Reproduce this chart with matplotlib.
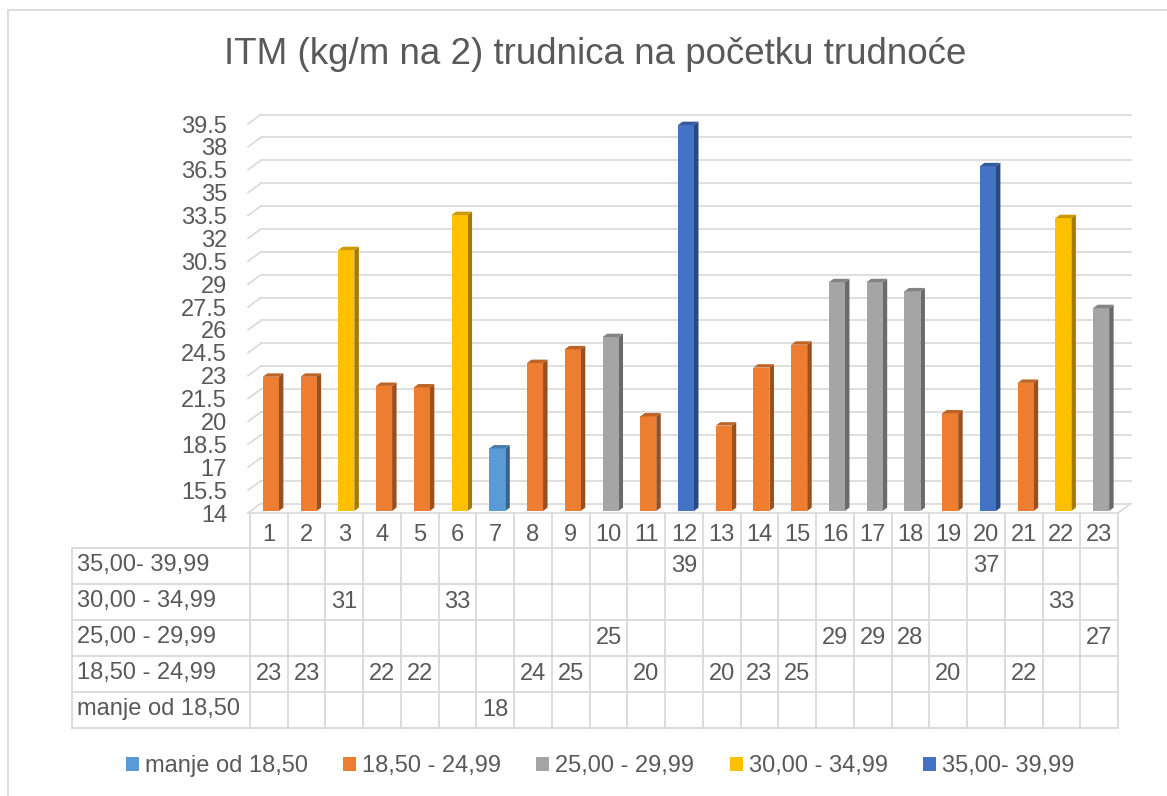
import matplotlib
matplotlib.use("Agg")
import matplotlib.pyplot as plt
from matplotlib.patches import Polygon, Patch
import numpy as np

plt.rcParams['font.family'] = ['Liberation Sans', 'DejaVu Sans']

# ---------------- data ----------------
title = "ITM (kg/m na 2) trudnica na početku trudnoće"
categories = [str(i) for i in range(1, 24)]
series_names = ["manje od 18,50", "18,50 - 24,99", "25,00 - 29,99", "30,00 - 34,99", "35,00- 39,99"]
series_colors = ["#5B9BD5", "#ED7D31", "#A5A5A5", "#FFC000", "#4472C4"]
N = None
manje = [N, N, N, N, N, N, 18.1, N, N, N, N, N, N, N, N, N, N, N, N, N, N, N, N]
s18_24 = [22.8, 22.8, N, 22.2, 22.1, N, N, 23.7, 24.6, N, 20.2, N, 19.6, 23.4, 24.9, N, N, N, 20.4, N, 22.4, N, N]
s25_29 = [N, N, N, N, N, N, N, N, N, 25.4, N, N, N, N, N, 29.0, 29.0, 28.4, N, N, N, N, 27.3]
s30_34 = [N, N, 31.1, N, N, 33.4, N, N, N, N, N, N, N, N, N, N, N, N, N, N, N, 33.2, N]
s35_39 = [N, N, N, N, N, N, N, N, N, N, N, 39.3, N, N, N, N, N, N, N, 36.6, N, N, N]
series = [manje, s18_24, s25_29, s30_34, s35_39]
y_ticks = [14, 15.5, 17, 18.5, 20, 21.5, 23, 24.5, 26, 27.5, 29, 30.5, 32, 33.5, 35, 36.5, 38, 39.5]
y_min, y_max = 14, 39.5

# ---------------- geometry (pixels) ----------------
W, H = 1167, 796
DPI = 100
PX_CAT = (1118 - 250) / 23.0          # px per category
PX_VAL = (513 - 124) / (y_max - y_min)  # px per unit

GRID = "#D9D9D9"
TXT = "#595959"

def shade(c, f):
    c = np.array(matplotlib.colors.to_rgb(c))
    return tuple(np.clip(c * f, 0, 1))

fig = plt.figure(figsize=(W / DPI, H / DPI), dpi=DPI)
fig.patch.set_facecolor("white")

# chart border (top and left visible)
fig.add_artist(plt.Line2D([8 / W, 8 / W], [0, 1 - 10 / H], color=GRID, lw=1.3, transform=fig.transFigure))
fig.add_artist(plt.Line2D([8 / W, 1], [1 - 10 / H, 1 - 10 / H], color=GRID, lw=1.3, transform=fig.transFigure))

# title
fig.text(595 / W, 1 - 64 / H, title, ha="center", va="baseline", fontsize=26.5, color=TXT)

# ---------------- main axes ----------------
ax = fig.add_axes([250 / W, 1 - 513 / H, (1118 - 250) / W, (513 - 124) / H])
ax.set_xlim(0, 23)
ax.set_ylim(y_min, y_max)
for s in ax.spines.values():
    s.set_visible(False)
ax.set_xticks([])
ax.set_yticks(y_ticks)
ax.set_yticklabels([("%g" % t) for t in y_ticks])
ax.tick_params(axis="y", length=0, pad=16.5, labelsize=17, labelcolor=TXT)
ax.patch.set_alpha(0)

DX = 13 / PX_CAT
DY = 9.5 / PX_VAL
x0 = -2 / PX_CAT
# gridlines (side wall diagonal + back wall)
for v in y_ticks:
    ax.plot([x0, x0 + DX], [v, v + DY], color=GRID, lw=1.2, clip_on=False, zorder=1)
    ax.plot([x0 + DX, 23 + DX], [v + DY, v + DY], color=GRID, lw=1.2, clip_on=False, zorder=1)
# floor front edge and right edge
ax.plot([x0, 23], [y_min, y_min], color=GRID, lw=1.2, clip_on=False, zorder=1)
ax.plot([23, 23 + DX], [y_min, y_min + DY], color=GRID, lw=1.2, clip_on=False, zorder=1)

# bars (3D look)
bw = 16 / PX_CAT
off_x = 2 / PX_CAT
off_y = 2 / PX_VAL
ddx = 4.5 / PX_CAT
ddy = 3.4 / PX_VAL
xs = np.arange(23) + 0.5 + off_x
for vals, col in zip(series, series_colors):
    idx = [i for i, v in enumerate(vals) if v is not None]
    hv = [vals[i] - y_min for i in idx]
    bars = ax.bar(xs[idx], hv, width=bw, bottom=y_min + off_y, color=col, zorder=3, clip_on=False, linewidth=0)
    for b in bars:
        xl = b.get_x()
        xr = xl + b.get_width()
        yb = b.get_y()
        yt = yb + b.get_height()
        side = Polygon([(xr, yb), (xr + ddx, yb + ddy), (xr + ddx, yt + ddy), (xr, yt)],
                       closed=True, facecolor=shade(col, 0.64), edgecolor="none", zorder=2.9, clip_on=False)
        top = Polygon([(xl, yt), (xr, yt), (xr + ddx, yt + ddy), (xl + ddx, yt + ddy)],
                      closed=True, facecolor=shade(col, 0.8), edgecolor="none", zorder=3.1, clip_on=False)
        ax.add_patch(side)
        ax.add_patch(top)

# ---------------- data table ----------------
tax = fig.add_axes([72 / W, 1 - 727.5 / H, (1118 - 72) / W, (727.5 - 513) / H])
tax.set_xlim(-178 / PX_CAT, 23)
tax.set_ylim(727.5, 513)
tax.axis("off")
row_lines = [547.5, 583.5, 619.5, 655.5, 691.5, 727.5]
lw_t = 1.3
for yl in row_lines:
    tax.plot([-178 / PX_CAT, 23], [yl, yl], color=GRID, lw=lw_t, clip_on=False)
tax.plot([-178 / PX_CAT] * 2, [547.5, 727.5], color=GRID, lw=lw_t, clip_on=False)
for i in range(24):
    tax.plot([i, i], [513, 727.5], color=GRID, lw=lw_t, clip_on=False)
for i, c in enumerate(categories):
    tax.text(i + 0.5, 535, c, ha="center", va="center", fontsize=17, color=TXT)
rows = list(reversed(list(zip(series_names, series))))
for r, (name, vals) in enumerate(rows):
    yc = (row_lines[r] + row_lines[r + 1]) / 2
    tax.text(-178 / PX_CAT + 5 / PX_CAT, yc, name, ha="left", va="center", fontsize=17, color=TXT)
    for i, v in enumerate(vals):
        if v is not None:
            tax.text(i + 0.5, yc, "%.0f" % v, ha="center", va="center", fontsize=17, color=TXT)

# ---------------- legend ----------------
handles = [Patch(facecolor=c, edgecolor="none") for c in series_colors]
fig.legend(handles, series_names, loc="center", bbox_to_anchor=(600 / W, 1 - 766 / H), ncol=5,
           frameon=False, fontsize=17, labelcolor=TXT, handlelength=0.55, handleheight=0.55,
           handletextpad=0.25, columnspacing=1.5, borderaxespad=0)

fig.savefig("out.png", dpi=DPI, facecolor="white")
